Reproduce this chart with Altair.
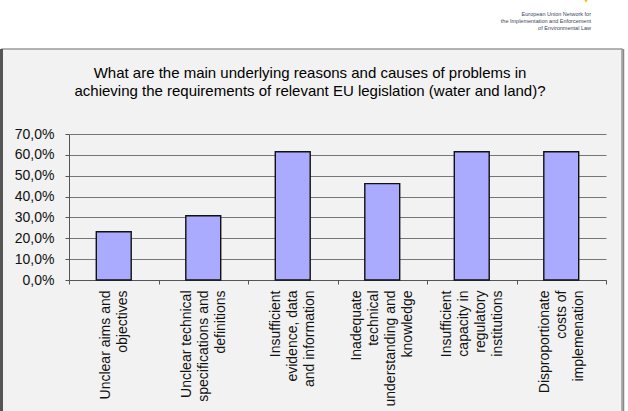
import altair as alt
import pandas as pd

categories = [
    "Unclear aims and|objectives",
    "Unclear technical|specifications and|definitions",
    "Insufficient|evidence, data|and information",
    "Inadequate|technical|understanding and|knowledge",
    "Insufficient|capacity in|regulatory|institutions",
    "Disproportionate|costs of|implemenation",
]
values = [23.1, 30.8, 61.5, 46.2, 61.5, 61.5]
y_ticks = [0, 10, 20, 30, 40, 50, 60, 70]
title_lines = [
    "What are the main underlying reasons and causes of problems in",
    "achieving the requirements of relevant EU legislation (water and land)?",
]
logo_lines = [
    "European Union Network for",
    "the Implementation and Enforcement",
    "of Environmental Law",
]

FONT = "Liberation Sans"
df = pd.DataFrame({"cat": categories, "val": values})
one = alt.Data(values=[{}])

top_white = alt.Chart(one).mark_rect(fill="white").encode(
    x=alt.value(-69), x2=alt.value(559), y=alt.value(-134), y2=alt.value(-85)
)
right_white = alt.Chart(one).mark_rect(fill="white").encode(
    x=alt.value(555), x2=alt.value(559), y=alt.value(-85), y2=alt.value(277)
)
border = alt.Chart(one).mark_rect(fillOpacity=0, stroke="#9a9a9a", strokeWidth=1.5).encode(
    x=alt.value(-67), x2=alt.value(553), y=alt.value(-85), y2=alt.value(300)
)
left_edge = alt.Chart(one).mark_rule(color="#555", strokeWidth=3).encode(
    x=alt.value(-67.5), y=alt.value(-85), y2=alt.value(300)
)
right_edge = alt.Chart(one).mark_rule(color="#888", strokeWidth=1.5).encode(
    x=alt.value(554.5), y=alt.value(-85), y2=alt.value(300)
)

title = alt.Chart(one).mark_text(
    text=title_lines, font=FONT, fontSize=15, lineHeight=18,
    align="center", baseline="middle", color="#000"
).encode(x=alt.value(241), y=alt.value(-61))

logo = alt.Chart(one).mark_text(
    text=logo_lines, font=FONT, fontSize=5.5, lineHeight=7,
    align="right", baseline="middle", color="#3a4660"
).encode(x=alt.value(522), y=alt.value(-120))

star = alt.Chart(one).mark_point(
    shape="triangle-down", filled=True, fill="#f2c200", size=18, opacity=1
).encode(x=alt.value(517), y=alt.value(-133))

NL = "length(split(datum.label, '|'))"
bars = alt.Chart(df).mark_bar(
    width=alt.RelativeBandSize(0.39), fill="#aaabff", stroke="#111", strokeWidth=1.4
).encode(
    x=alt.X("cat:N", sort=None,
            scale=alt.Scale(paddingInner=0, paddingOuter=0),
            axis=alt.Axis(
                title=None, labelAngle=-90, labelAlign="right", labelBaseline="middle",
                labelExpr="split(datum.label, '|')", labelFont=FONT, labelFontSize=14,
                labelLineHeight=17, labelPadding=6, tickSize=4, tickBand="extent",
                tickColor="#555", domainColor="#555", labelColor="#111",
                labelOverlap=False, labelLimit=0, labelBound=False, grid=False,
                labelOffset={
                    "condition": [
                        {"test": f"{NL} == 2", "value": -8.5},
                        {"test": f"{NL} == 3", "value": -17},
                    ],
                    "value": -25.5,
                },
            )),
    y=alt.Y("val:Q",
            scale=alt.Scale(domain=[0, 70], nice=False),
            axis=alt.Axis(
                title=None, values=y_ticks,
                labelExpr="replace(format(datum.value, '.1f'), '.', ',') + '%'",
                labelFont=FONT, labelFontSize=14, labelPadding=11, tickSize=4,
                tickColor="#555", domainColor="#555", labelColor="#111",
                gridColor="#767676", gridWidth=1.2,
            )),
)

chart = alt.layer(top_white, right_white, border, left_edge, right_edge,
                  title, logo, star, bars).properties(
    width=537, height=146,
    autosize=alt.AutoSizeParams(type="none"),
    padding={"left": 69, "top": 134, "right": 22, "bottom": 131},
    background="#f2f2f2",
).configure_view(stroke=None)

chart.save("out.html", embed_options={"renderer": "svg", "actions": False})
